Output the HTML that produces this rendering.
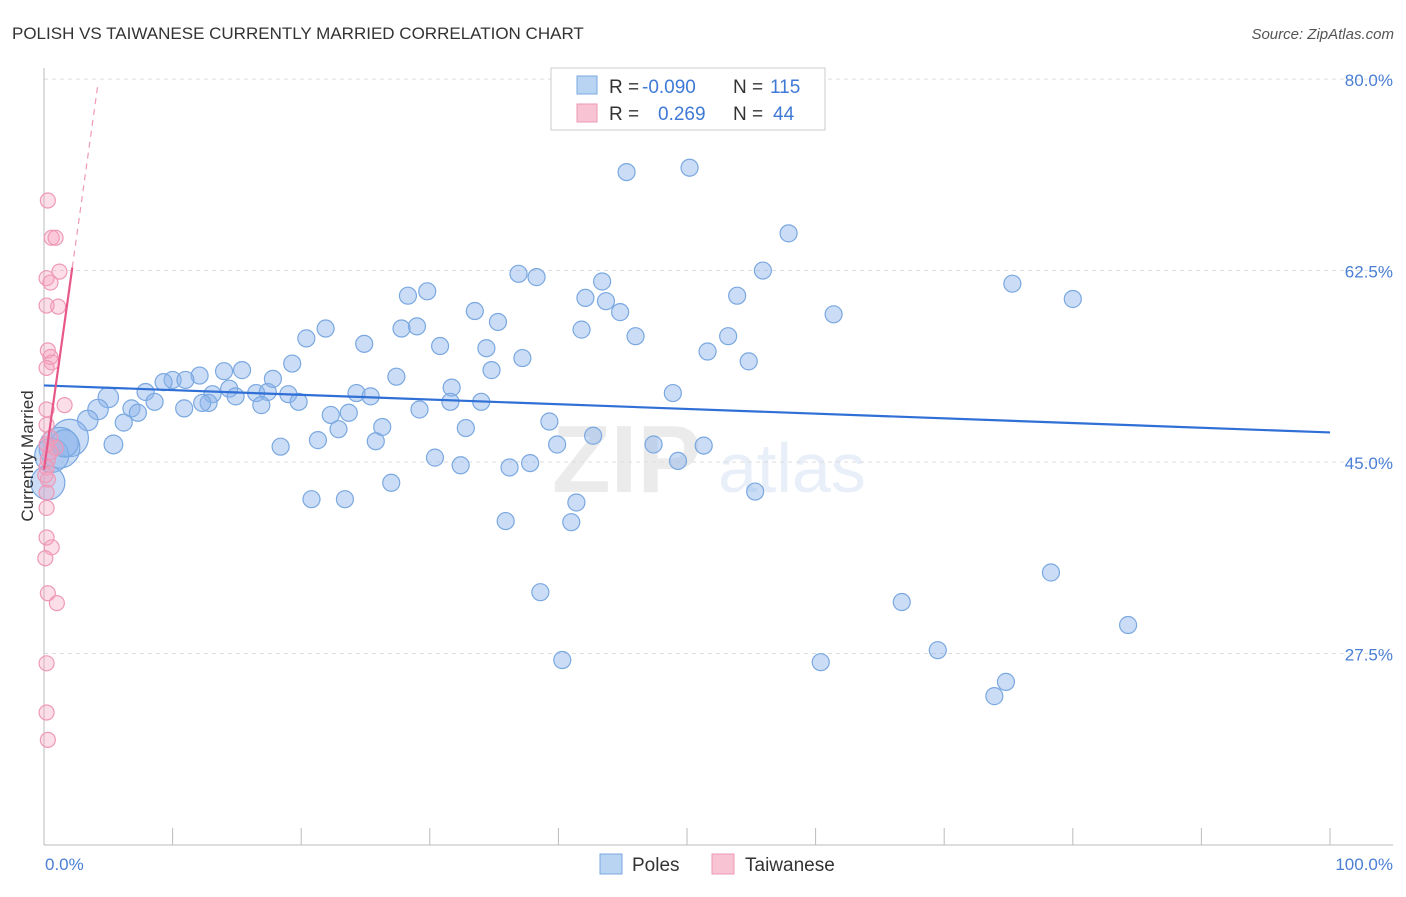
<!DOCTYPE html>
<html><head><meta charset="utf-8"><style>
body{margin:0;background:#fff;font-family:"Liberation Sans",sans-serif}
svg text{font-family:"Liberation Sans",sans-serif}
</style></head><body>
<svg id="chart" width="1406" height="892" xmlns="http://www.w3.org/2000/svg">
<text x="12" y="39" font-size="17" fill="#333">POLISH VS TAIWANESE CURRENTLY MARRIED CORRELATION CHART</text>
<text x="1394" y="39" font-size="15" fill="#555" font-style="italic" text-anchor="end">Source: ZipAtlas.com</text>
<g opacity="0.12">
<text x="552" y="492" font-size="96" font-family="Liberation Serif" fill="#666" font-weight="bold">ZIP</text>
<text x="718" y="492" font-size="70" fill="#4a7fd4">atlas</text>
</g>
<g id="grid"></g>
<g id="marks"></g>
<text transform="translate(33,456) rotate(-90)" font-size="17" fill="#333" text-anchor="middle">Currently Married</text>
<text x="45" y="870" font-size="17" fill="#4a7fd4">0.0%</text>
<text x="1393" y="870" font-size="17" fill="#4a7fd4" text-anchor="end">100.0%</text>
<g>
<rect x="551" y="68" width="274" height="62" fill="#fff" stroke="#ccc"/>
<rect x="577" y="76" width="20" height="18" fill="#b9d3f3" stroke="#7aa8e0"/>
<rect x="577" y="104" width="20" height="18" fill="#f8c3d3" stroke="#ee99b6"/>
<text x="609" y="93" font-size="19" fill="#333">R = </text><text x="642" y="93" font-size="19" fill="#3f7ad6">-0.090</text>
<text x="733" y="93" font-size="19" fill="#333">N = </text><text x="770" y="93" font-size="19" fill="#3f7ad6">115</text>
<text x="609" y="120" font-size="19" fill="#333">R = </text><text x="658" y="120" font-size="19" fill="#3f7ad6">0.269</text>
<text x="733" y="120" font-size="19" fill="#333">N = </text><text x="773" y="120" font-size="19" fill="#3f7ad6">44</text>
</g>
<g>
<rect x="600" y="854" width="22" height="20" fill="#b9d3f3" stroke="#7aa8e0"/>
<text x="632" y="871" font-size="19" fill="#333">Poles</text>
<rect x="712" y="854" width="22" height="20" fill="#f8c3d3" stroke="#ee99b6"/>
<text x="745" y="871" font-size="19" fill="#333">Taiwanese</text>
</g>
</svg>
<script>
const yTicks=[27.5,45.0,62.5,80.0];
const yTickLabels=["27.5%","45.0%","62.5%","80.0%"];
const polesX=[45.3,50.2,57.9,55.9,75.3,80.0,61.4,53.9,36.9,38.3,43.4,42.1,43.7,44.8,41.8,46.0,51.6,54.8,53.2,28.3,29.8,33.5,35.3,29.0,27.8,21.9,20.4,24.9,30.8,34.4,37.2,34.8,27.4,31.7,19.3,15.4,14.0,12.1,10.0,11.0,9.3,7.9,5.0,14.4,13.1,16.5,17.4,19.0,24.3,25.4,31.6,34.0,48.9,14.9,17.8,8.6,6.8,10.9,12.8,12.3,16.9,19.8,29.2,7.3,6.2,22.3,23.7,22.9,26.3,32.8,39.3,42.7,39.9,21.3,25.8,18.4,47.4,51.3,49.3,30.4,32.4,36.2,37.8,27.0,20.8,23.4,41.4,55.3,35.9,41.0,38.6,78.3,66.7,84.3,40.3,60.4,69.5,74.8,73.9,46.3,5.4,4.2,3.4,2.0,1.2,0.6,0.3,1.6];
const polesY=[71.5,71.9,65.9,62.5,61.3,59.9,58.5,60.2,62.2,61.9,61.5,60.0,59.7,58.7,57.1,56.5,55.1,54.2,56.5,60.2,60.6,58.8,57.8,57.4,57.2,57.2,56.3,55.8,55.6,55.4,54.5,53.4,52.8,51.8,54.0,53.4,53.3,52.9,52.5,52.5,52.3,51.4,50.9,51.7,51.2,51.3,51.4,51.2,51.3,51.0,50.5,50.5,51.3,51.0,52.6,50.5,49.9,49.9,50.4,50.4,50.2,50.5,49.8,49.5,48.6,49.3,49.5,48.0,48.2,48.1,48.7,47.4,46.6,47.0,46.9,46.4,46.6,46.5,45.1,45.4,44.7,44.5,44.9,43.1,41.6,41.6,41.3,42.3,39.6,39.5,33.1,34.9,32.2,30.1,26.9,26.7,27.8,24.9,23.6,78.1,46.6,49.8,48.8,47.2,46.3,45.6,43.1,46.7];
const polesW=[1,1,1,1,1,1,1,1,1,1,1,1,1,1,1,1,1,1,1,1,1,1,1,1,1,1,1,1,1,1,1,1,1,1,1,1,1,1,1,1,1,1,1.2,1,1,1,1,1,1,1,1,1,1,1,1,1,1,1,1,1,1,1,1,1,1,1,1,1,1,1,1,1,1,1,1,1,1,1,1,1,1,1,1,1,1,1,1,1,1,1,1,1,1,1,1,1,1,1,1,1,1.1,1.2,1.2,2.2,2.4,2.0,2.0,1.6];
const taiX=[0.3,0.6,0.9,1.2,0.2,0.5,1.1,0.2,0.3,0.5,0.6,0.2,1.6,0.2,0.2,0.5,0.9,0.3,0.2,0.1,0.3,0.2,0.2,0.2,0.6,0.1,0.3,1.0,0.2,0.2,0.3,0.5,0.2];
const taiY=[68.9,65.5,65.5,62.4,61.8,61.4,59.2,59.3,55.2,54.6,54.1,53.6,50.2,49.8,48.4,47.2,46.3,45.2,44.5,43.8,43.4,42.2,40.8,38.1,37.2,36.2,33.0,32.1,26.6,22.1,19.6,45.9,46.6];
const polesTrend=[52.0,47.7];
const taiTrend=[44.3,8.4];
const NS="http://www.w3.org/2000/svg";
const X=v=>44+v*12.86, Y=v=>462-(v-45)*10.94;
function mk(p,t,a){const e=document.createElementNS(NS,t);for(const k in a)e.setAttribute(k,a[k]);p.appendChild(e);return e;}
const g=document.getElementById('grid'),m=document.getElementById('marks');
yTicks.forEach((t,i)=>{
 const l=mk(g,'line',{x1:44,x2:1393,y1:Y(t),y2:Y(t),stroke:'#ddd','stroke-dasharray':'4,4'});
 
 
 const tx=mk(g,'text',{x:1393,y:Y(t)+7,'font-size':17,fill:'#4a7fd4','text-anchor':'end'});
 tx.textContent=yTickLabels[i];
 
 
});
const ax=mk(g,'line',{x1:44,x2:44,y1:68,y2:845,stroke:'#bbb'});


const bx=mk(g,'line',{x1:44,x2:1393,y1:845,y2:845,stroke:'#bbb'});


for(let i=0;i<=10;i++){const t=mk(g,'line',{x1:X(i*10),x2:X(i*10),y1:828,y2:845,stroke:'#bbb'});
 
 }
polesX.forEach((x,i)=>{const c=mk(m,'circle',{cx:X(x),cy:Y(polesY[i]),r:8.5*polesW[i],fill:'rgba(140,180,235,0.45)',stroke:'#7aa8e0','stroke-width':1.2});
 
 });
taiX.forEach((x,i)=>{const c=mk(m,'circle',{cx:X(x),cy:Y(taiY[i]),r:7.5,fill:'rgba(245,160,190,0.35)',stroke:'#ee99b6','stroke-width':1.2});
 
 });
const pl=mk(m,'line',{x1:X(0),y1:Y(polesTrend[0]),x2:X(100),y2:Y(polesTrend[1]),stroke:'#2f6fd6','stroke-width':2.2});


const ts=mk(m,'line',{x1:X(0),y1:Y(taiTrend[0]),x2:X(2.2),y2:Y(taiTrend[0]+taiTrend[1]*2.2),stroke:'#e8578a','stroke-width':2.2});


const td=mk(m,'line',{x1:X(2.2),y1:Y(taiTrend[0]+taiTrend[1]*2.2),x2:X(4.2),y2:Y(taiTrend[0]+taiTrend[1]*4.2),stroke:'#ee99b6','stroke-width':1.2,'stroke-dasharray':'6,5'});


</script>
</body></html>
